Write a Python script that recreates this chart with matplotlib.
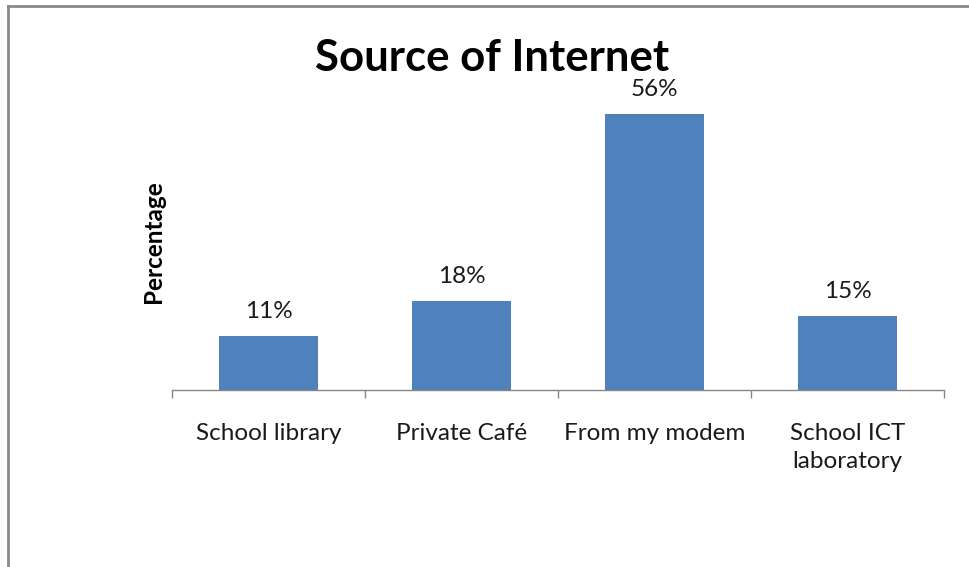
import matplotlib.pyplot as plt
from matplotlib.lines import Line2D

categories = ['School library', 'Private Café', 'From my modem', 'School ICT\nlaboratory']
values = [11, 18, 56, 15]

plt.rcParams['font.family'] = ['Lato', 'DejaVu Sans']

fig = plt.figure(figsize=(9.69, 5.67), dpi=100)
ax = fig.add_axes([172 / 969, (567 - 390) / 567, 772 / 969, 296 / 567])

x = range(len(categories))
bars = ax.bar(x, values, width=0.51, color='#4F81BD')

for b, v in zip(bars, values):
    ax.annotate(f'{v}%', (b.get_x() + b.get_width() / 2, v),
                xytext=(0, 10), textcoords='offset points',
                ha='center', va='bottom', fontsize=17.5, color='#1a1a1a')

ax.set_xlim(-0.5, len(categories) - 0.5)
ax.set_ylim(0, 60)

# category labels at centers, tick marks at boundaries
ax.set_xticks(list(x))
ax.set_xticklabels(categories, fontsize=17.5, color='#1a1a1a', linespacing=1.4)
ax.tick_params(axis='x', which='major', length=0, pad=24)
ax.set_xticks([i - 0.5 for i in range(len(categories) + 1)], minor=True)
ax.tick_params(axis='x', which='minor', length=6, width=1, color='#868686', direction='out')

ax.set_yticks([])
for s in ['top', 'right', 'left']:
    ax.spines[s].set_visible(False)
ax.spines['bottom'].set_color('#868686')
ax.spines['bottom'].set_linewidth(1)

ax.set_ylabel('Percentage', fontsize=17.5, fontweight='bold', labelpad=5)

fig.text(492 / 969, 1 - 58 / 567, 'Source of Internet', fontsize=31.5, fontweight='bold',
         ha='center', va='center')

# outer frame (left and top edges visible)
fig.add_artist(Line2D([8 / 969, 8 / 969], [0, 1 - 6 / 567], transform=fig.transFigure,
                      color='#8a8a8a', lw=2))
fig.add_artist(Line2D([8 / 969, 1], [1 - 6 / 567, 1 - 6 / 567], transform=fig.transFigure,
                      color='#8a8a8a', lw=2))

fig.savefig('out.png', dpi=100)
